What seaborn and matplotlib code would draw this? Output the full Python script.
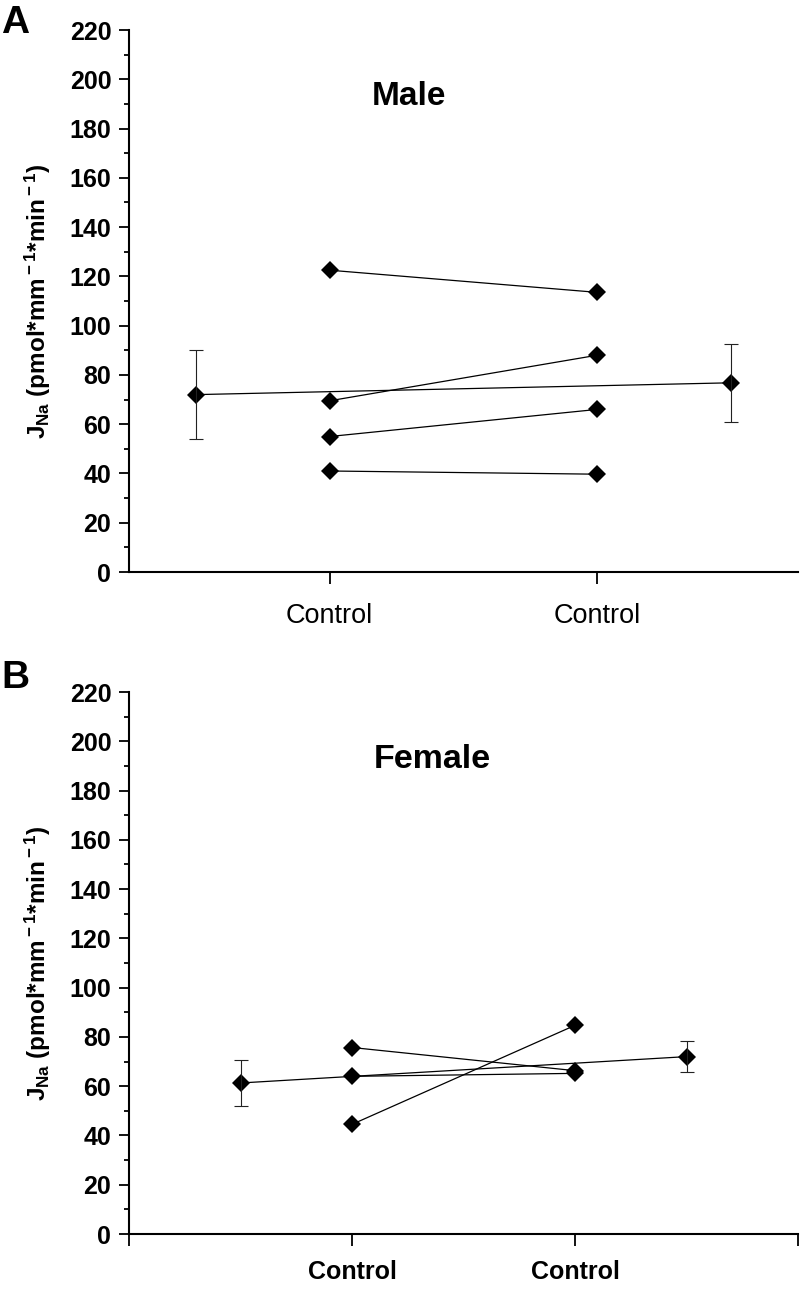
import matplotlib
matplotlib.use("Agg")
import matplotlib.pyplot as plt
import numpy as np
import pandas as pd
import seaborn as sns
from matplotlib.ticker import MultipleLocator

# ---------------- data ----------------
categories = ["Control", "Control"]
y_ticks = [0, 20, 40, 60, 80, 100, 120, 140, 160, 180, 200, 220]

male_first = [122.5, 69.5, 55.0, 41.0]
male_second = [113.5, 88.0, 66.0, 39.7]
male_mean = [72.0, 76.8]
male_err = [18.0, 15.8]

female_first = [75.7, 64.0, 44.5]
female_second = [66.3, 65.2, 84.7]
female_mean = [61.3, 72.0]
female_err = [9.2, 6.4]

panel_titles = ["Male", "Female"]
panel_letters = ["A", "B"]
ylabel = r"J$_{\rm Na}$ (pmol*mm$^{\rm -1}$*min$^{\rm -1}$)"

# ---------------- style ----------------
sns.set_style("ticks")
plt.rcParams["font.family"] = ["Liberation Sans", "DejaVu Sans"]
plt.rcParams["mathtext.fontset"] = "custom"
plt.rcParams["mathtext.rm"] = "Liberation Sans:bold"
plt.rcParams["mathtext.bf"] = "Liberation Sans:bold"
plt.rcParams["mathtext.it"] = "Liberation Sans:bold"
plt.rcParams["axes.linewidth"] = 1.5
for key in ["text.color", "axes.labelcolor", "xtick.color", "ytick.color",
            "axes.edgecolor"]:
    plt.rcParams[key] = "black"

W, H = 801, 1291
fig = plt.figure(figsize=(W / 100, H / 100), dpi=100)
ax1 = fig.add_axes([129 / W, 1 - 572 / H, 669 / W, 542 / H])
ax2 = fig.add_axes([129 / W, 1 - 1234 / H, 669 / W, 542 / H])


def pair_frame(first, second):
    rows = []
    for i, (a, b) in enumerate(zip(first, second)):
        rows.append({"x": 1.0, "y": a, "subject": i})
        rows.append({"x": 2.0, "y": b, "subject": i})
    return pd.DataFrame(rows)


def draw_panel(ax, first, second, means, errs):
    df = pair_frame(first, second)
    sns.lineplot(data=df, x="x", y="y", units="subject", estimator=None,
                 color="black", lw=0.9, marker="D", markersize=9.5,
                 markeredgewidth=0, legend=False, ax=ax)
    dm = pd.DataFrame({"x": [0.5, 2.5], "y": means})
    sns.lineplot(data=dm, x="x", y="y", color="black", lw=0.9, marker="D",
                 markersize=9.5, markeredgewidth=0, legend=False, ax=ax)
    ax.errorbar(dm["x"], dm["y"], yerr=errs, fmt="none", ecolor="#222222",
                elinewidth=0.8, capsize=4.7, capthick=0.8)
    ax.set_ylim(0, 220)
    ax.set_yticks(y_ticks)
    ax.set_yticklabels([str(t) for t in y_ticks], fontsize=18, fontweight="bold")
    ax.yaxis.set_minor_locator(MultipleLocator(10))
    ax.tick_params(axis="y", which="major", direction="out", length=7.2, width=1.3, pad=5.5)
    ax.tick_params(axis="y", which="minor", direction="out", length=3.6, width=1.3)
    ax.set_xlabel("")
    ax.set_ylabel(ylabel, fontsize=17.5, fontweight="bold")
    ax.yaxis.set_label_coords(-0.113, 0.5)
    sns.despine(ax=ax)


draw_panel(ax1, male_first, male_second, male_mean, male_err)
ax1.set_xlim(0.25, 2.75)
ax1.set_xticks([1, 2])
ax1.set_xticklabels(categories, fontsize=19.5)
ax1.tick_params(axis="x", direction="out", length=8.6, width=1.3, pad=14)

draw_panel(ax2, female_first, female_second, female_mean, female_err)
ax2.set_xlim(0, 3)
ax2.set_xticks([0, 1, 2, 3])
ax2.set_xticklabels([""] + categories + [""], fontsize=18, fontweight="bold")
ax2.tick_params(axis="x", direction="out", length=8.6, width=1.3, pad=10)

ax1.text(0.4185, 0.878, panel_titles[0], transform=ax1.transAxes, ha="center",
         va="center", fontsize=24, fontweight="bold")
ax2.text(0.454, 0.876, panel_titles[1], transform=ax2.transAxes, ha="center",
         va="center", fontsize=24.5, fontweight="bold")

fig.text(15 / W, 1 - 23 / H, panel_letters[0], ha="center", va="center",
         fontsize=28, fontweight="bold")
fig.text(15 / W, 1 - 678 / H, panel_letters[1], ha="center", va="center",
         fontsize=28, fontweight="bold")

fig.savefig("out.png", dpi=100)
